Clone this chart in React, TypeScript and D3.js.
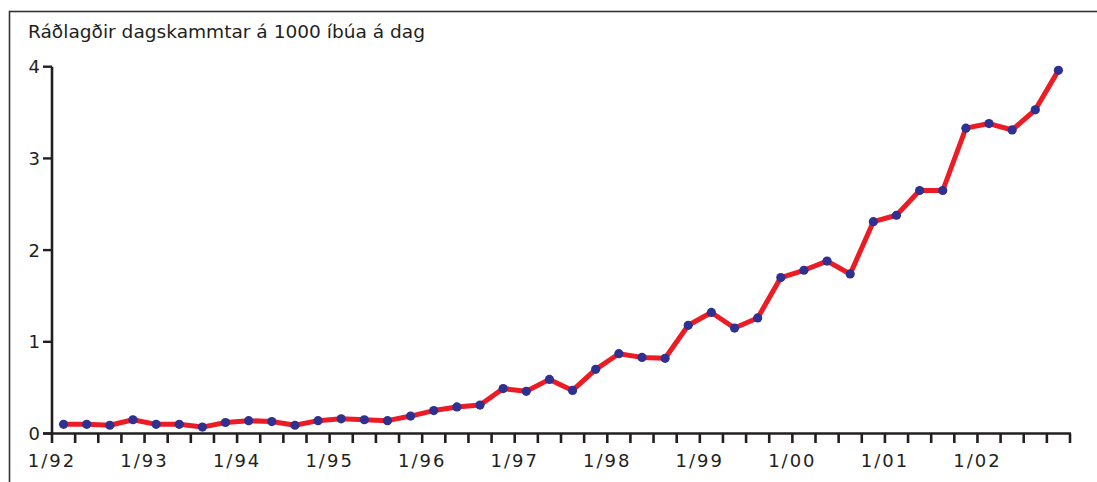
import React from "react";
import * as d3 from "d3";

const title = "Ráðlagðir dagskammtar á 1000 íbúa á dag";
const yearLabels = ["1/92", "1/93", "1/94", "1/95", "1/96", "1/97", "1/98", "1/99", "1/00", "1/01", "1/02"];
const yTicks = [0, 1, 2, 3, 4];
// quarterly values, Q1 1992 .. Q4 2002
const values = [
  0.10, 0.10, 0.09, 0.15,
  0.10, 0.10, 0.07, 0.12,
  0.14, 0.13, 0.09, 0.14,
  0.16, 0.15, 0.14, 0.19,
  0.25, 0.29, 0.31, 0.49,
  0.46, 0.59, 0.47, 0.70,
  0.87, 0.83, 0.82, 1.18,
  1.32, 1.15, 1.26, 1.70,
  1.78, 1.88, 1.74, 2.31,
  2.38, 2.65, 2.65, 3.33,
  3.38, 3.31, 3.53, 3.96,
];

const W = 1097;
const H = 482;
const axisColor = "#231f20";
const lineColor = "#ed1c24";
const dotColor = "#2e3192";
const font = "'DejaVu Sans', sans-serif";

export default function App() {
  const nQuarters = yearLabels.length * 4; // 44
  const x = d3.scaleLinear().domain([0, nQuarters]).range([52, 1070]);
  const y = d3.scaleLinear().domain([0, 4]).range([433.5, 66.7]);
  const line = d3
    .line<number>()
    .x((_, i) => x(i + 0.5))
    .y((d) => y(d));
  const quarterTicks = d3.range(nQuarters + 1);

  return (
    <svg
      width={W}
      height={H}
      style={{ position: "absolute", left: 0, top: 0, background: "#fff" }}
    >
      <rect x={0} y={0} width={W} height={H} fill="#fff" />
      <rect x={9.5} y={11.5} width={W + 20} height={H + 20} fill="none" stroke="#333" strokeWidth={1.6} />
      <text x={28} y={37.5} fontFamily={font} fontSize={17} fill={axisColor} textLength={397} lengthAdjust="spacingAndGlyphs">
        {title}
      </text>
      {/* y axis */}
      <line x1={52} x2={52} y1={y(4)} y2={y(0)} stroke={axisColor} strokeWidth={2.6} />
      {yTicks.map((t) => (
        <g key={t}>
          <line x1={43} x2={52} y1={y(t)} y2={y(t)} stroke={axisColor} strokeWidth={2.4} />
          <text x={40} y={y(t)} dy="0.36em" textAnchor="end" fontFamily={font} fontSize={18} fill={axisColor}>
            {t}
          </text>
        </g>
      ))}
      {/* x axis */}
      <line x1={43} x2={1071} y1={y(0)} y2={y(0)} stroke={axisColor} strokeWidth={2.6} />
      {quarterTicks.map((q) => (
        <line key={q} x1={x(q)} x2={x(q)} y1={y(0)} y2={y(0) + 9.5} stroke={axisColor} strokeWidth={2.6} />
      ))}
      {yearLabels.map((lab, i) => (
        <text key={lab} x={x(i * 4)} y={467} textAnchor="middle" fontFamily={font} fontSize={18} letterSpacing={2} fill={axisColor}>
          {lab}
        </text>
      ))}
      <path d={line(values) || ""} fill="none" stroke={lineColor} strokeWidth={5} strokeLinejoin="round" />
      {values.map((v, i) => (
        <circle key={i} cx={x(i + 0.5)} cy={y(v)} r={4.6} fill={dotColor} />
      ))}
    </svg>
  );
}
